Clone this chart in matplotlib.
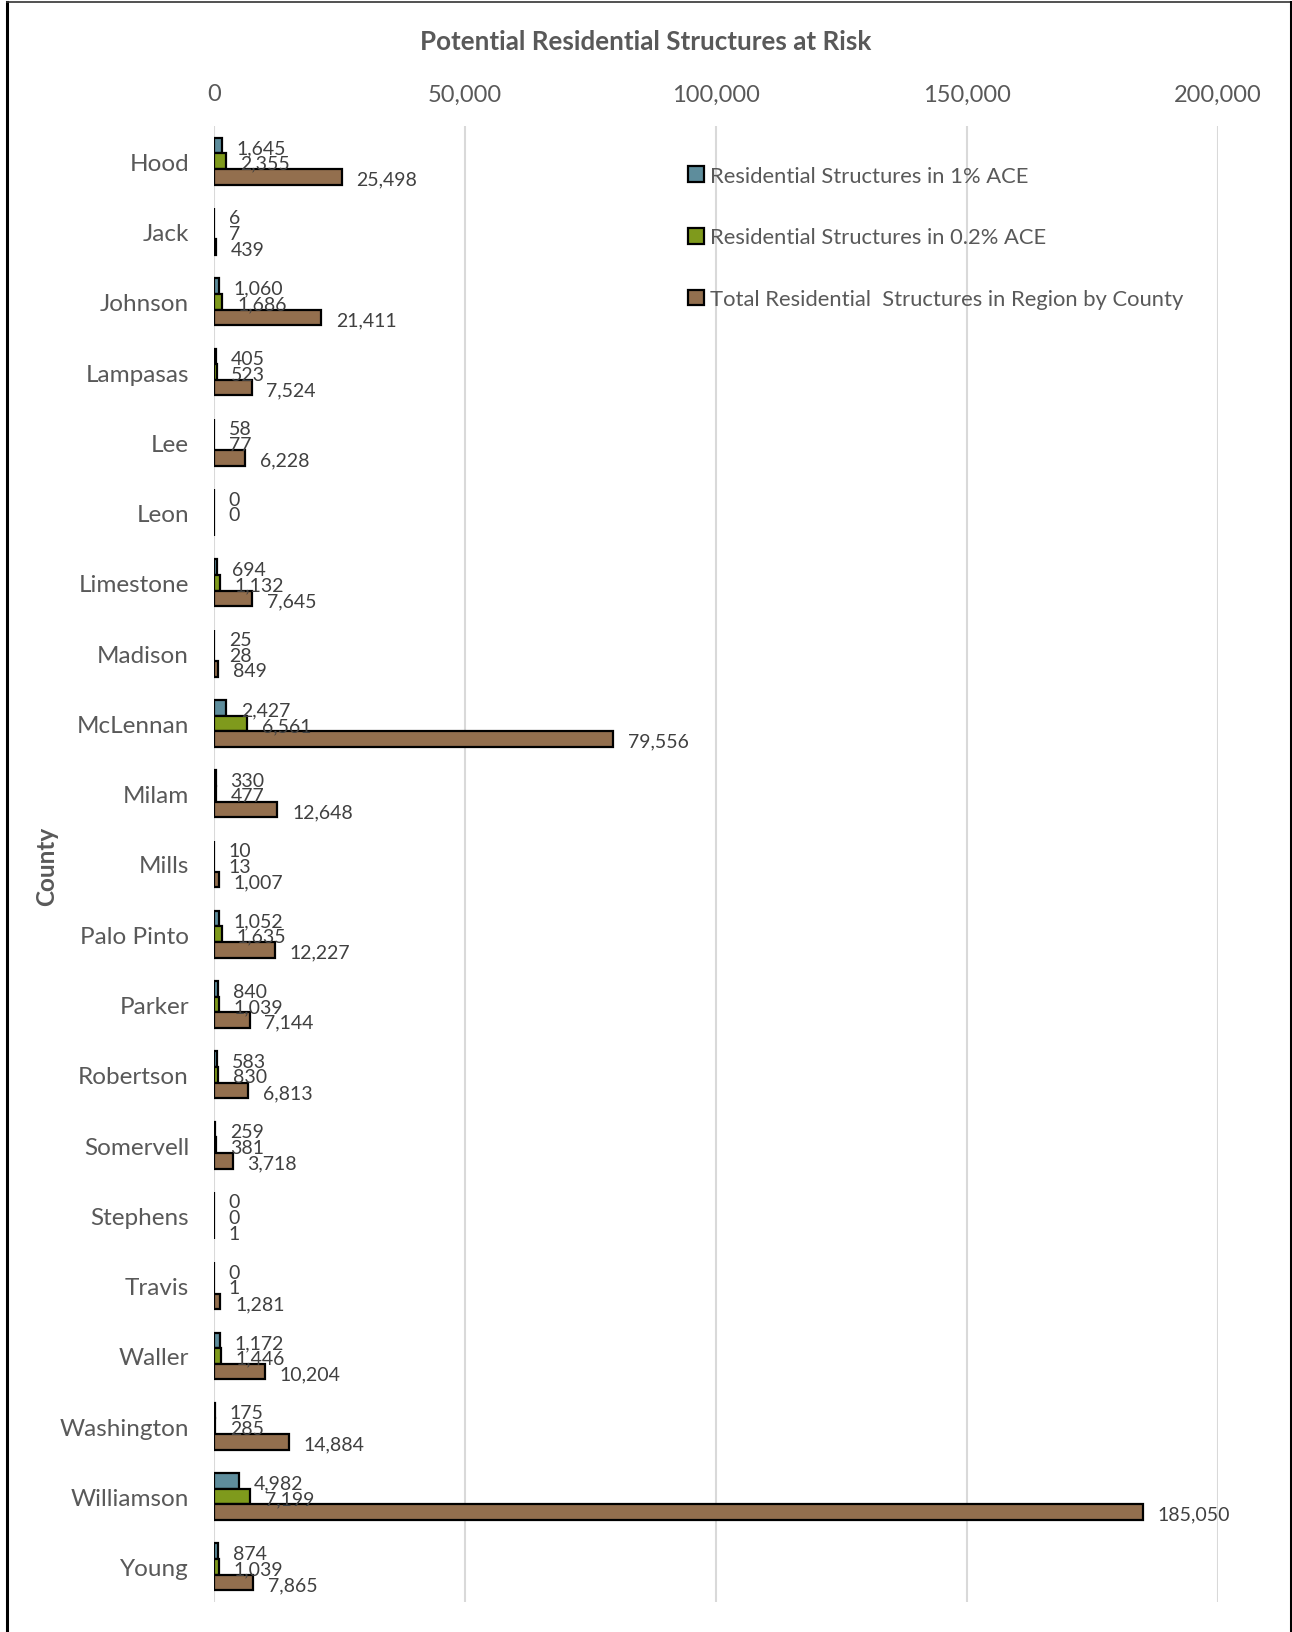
import numpy as np
import matplotlib
matplotlib.use("Agg")
import matplotlib.pyplot as plt
from matplotlib.lines import Line2D

counties = ["Hood", "Jack", "Johnson", "Lampasas", "Lee", "Leon", "Limestone", "Madison",
            "McLennan", "Milam", "Mills", "Palo Pinto", "Parker", "Robertson", "Somervell",
            "Stephens", "Travis", "Waller", "Washington", "Williamson", "Young"]
ace1 = [1645, 6, 1060, 405, 58, 0, 694, 25, 2427, 330, 10, 1052, 840, 583, 259, 0, 0, 1172, 175, 4982, 874]
ace02 = [2355, 7, 1686, 523, 77, 0, 1132, 28, 6561, 477, 13, 1635, 1039, 830, 381, 0, 1, 1446, 285, 7199, 1039]
total = [25498, 439, 21411, 7524, 6228, np.nan, 7645, 849, 79556, 12648, 1007, 12227, 7144, 6813, 3718,
         1, 1281, 10204, 14884, 185050, 7865]
series_names = ["Residential Structures in 1% ACE",
                "Residential Structures in 0.2% ACE",
                "Total Residential  Structures in Region by County"]
colors = ["#5E8D9C", "#7F9A1C", "#936F4E"]
xticks = [0, 50000, 100000, 150000, 200000]

plt.rcParams['font.family'] = ['Lato', 'DejaVu Sans']
txt = "#595959"

fig = plt.figure(figsize=(12.92, 16.33), dpi=100)
ax = fig.add_axes([214/1292, 1 - 1603/1633, (1218-214)/1292, (1603-127)/1633])

y = np.arange(len(counties))
h = 0.222
for i, (vals, c, name) in enumerate(zip([ace1, ace02, total], colors, series_names)):
    pos = y + (i - 1) * h
    v = np.array(vals, dtype=float)
    ax.barh(pos, np.nan_to_num(v), height=h, color=c, edgecolor="black", linewidth=1.6, label=name)
    for p, val in zip(pos, v):
        if np.isnan(val):
            continue
        ax.annotate(f"{int(val):,}", xy=(val, p), xytext=(10.5, -1.5), textcoords="offset points",
                    ha="left", va="center", fontsize=14, color="#404040")

ax.set_xlim(0, 200000)
ax.set_ylim(len(counties) - 0.5, -0.5)
ax.set_xticks(xticks)
ax.set_xticklabels([f"{t:,}" for t in xticks])
ax.xaxis.tick_top()
ax.tick_params(axis="x", length=0, pad=15.5, labelsize=17, labelcolor=txt)
ax.set_yticks(y)
ax.set_yticklabels(counties)
ax.tick_params(axis="y", length=0, pad=18, labelsize=17.5, labelcolor=txt)
ax.grid(axis="x", color="#D9D9D9", linewidth=1.5)
ax.set_axisbelow(True)
for s in ax.spines.values():
    s.set_visible(False)

ax.legend(loc="upper left", bbox_to_anchor=(668/1292, 1 - 147/1633), bbox_transform=fig.transFigure,
          frameon=False, fontsize=15.8, labelcolor=txt, handlelength=0.72, handleheight=0.72,
          handletextpad=0.3, labelspacing=1.9)

fig.text(0.5, 1 - 42/1633, "Potential Residential Structures at Risk", ha="center", va="center",
         fontsize=18.7, fontweight="bold", color=txt)
fig.text(47/1292, 1 - 866/1633, "County", ha="center", va="center", rotation=90,
         fontsize=17.5, fontweight="bold", color=txt)

# outer frame (left, top, right)
fig.add_artist(Line2D([7/1292, 7/1292], [0, 1 - 2.5/1633], transform=fig.transFigure, color="black", linewidth=2.2))
fig.add_artist(Line2D([7/1292, 1291/1292], [1 - 2.5/1633, 1 - 2.5/1633], transform=fig.transFigure, color="#333333", linewidth=1.2))
fig.add_artist(Line2D([1290.5/1292, 1290.5/1292], [0, 1 - 2.5/1633], transform=fig.transFigure, color="black", linewidth=2.2))

fig.savefig("out.png", dpi=100)
